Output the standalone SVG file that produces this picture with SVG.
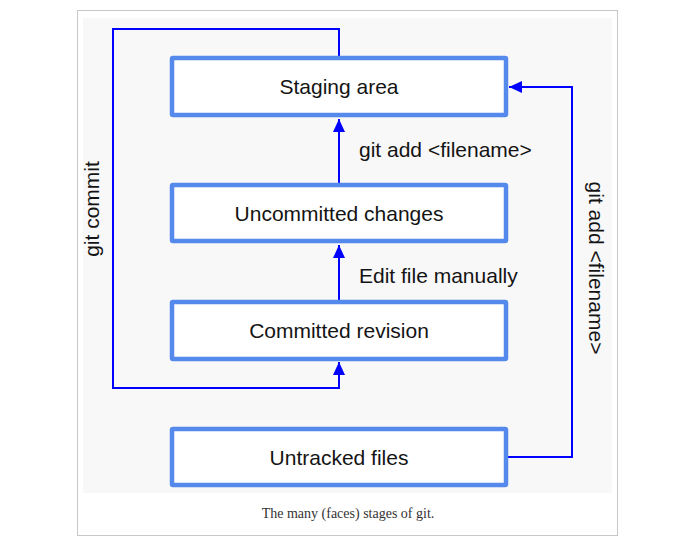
<svg xmlns="http://www.w3.org/2000/svg" width="699" height="548" viewBox="0 0 699 548">
<style>
.box{fill:#ffffff;stroke:#5689ec;stroke-width:4.5}
.lbl{font-family:"Liberation Sans",Arial,sans-serif;font-size:21px;fill:#141414;text-anchor:middle}
.edge{fill:none;stroke:#0000ff;stroke-width:2}
.elbl{font-family:"Liberation Sans",Arial,sans-serif;font-size:21px;fill:#141414}
.cap{font-family:"Liberation Serif","Times New Roman",serif;font-size:14px;fill:#333333;text-anchor:middle}
</style>
<defs>
<marker id="ah" markerUnits="userSpaceOnUse" markerWidth="14" markerHeight="12" viewBox="0 0 14 12" refX="13" refY="6" orient="auto">
<path d="M0,0 L13,6 L0,12 Z" fill="#0000ff"/>
</marker>
</defs>
<rect x="0" y="0" width="699" height="548" fill="#ffffff"/>
<rect x="77.5" y="10.5" width="540" height="525" fill="#ffffff" stroke="#c8c8c8" stroke-width="1"/>
<rect x="83" y="18" width="529" height="475" fill="#f8f8f9"/>
<g id="connectors">
<path class="edge" d="M339,56 V29 H113 V388 H339 V362" marker-end="url(#ah)"/>
<path class="edge" d="M339,300 V245" marker-end="url(#ah)"/>
<path class="edge" d="M339,183 V119" marker-end="url(#ah)"/>
<path class="edge" d="M508,457 H572 V87 H509" marker-end="url(#ah)"/>
<text class="elbl" x="359" y="157">git add &lt;filename&gt;</text>
<text class="elbl" x="359" y="283">Edit file manually</text>
<text class="elbl" text-anchor="middle" transform="translate(99,209) rotate(-90)">git commit</text>
<text class="elbl" text-anchor="middle" transform="translate(589,268) rotate(90)">git add &lt;filename&gt;</text>
</g>
<g id="staging">
<rect class="box" x="172" y="58" width="334" height="57" rx="1"/>
<text class="lbl" x="339" y="94">Staging area</text>
</g>
<g id="uncommitted">
<rect class="box" x="172" y="185" width="334" height="56" rx="1"/>
<text class="lbl" x="339" y="221">Uncommitted changes</text>
</g>
<g id="committed">
<rect class="box" x="172" y="302" width="334" height="57" rx="1"/>
<text class="lbl" x="339" y="338">Committed revision</text>
</g>
<g id="untracked">
<rect class="box" x="172" y="429" width="334" height="56" rx="1"/>
<text class="lbl" x="339" y="465">Untracked files</text>
</g>
<text class="cap" x="348" y="518">The many (faces) stages of git.</text>
</svg>
